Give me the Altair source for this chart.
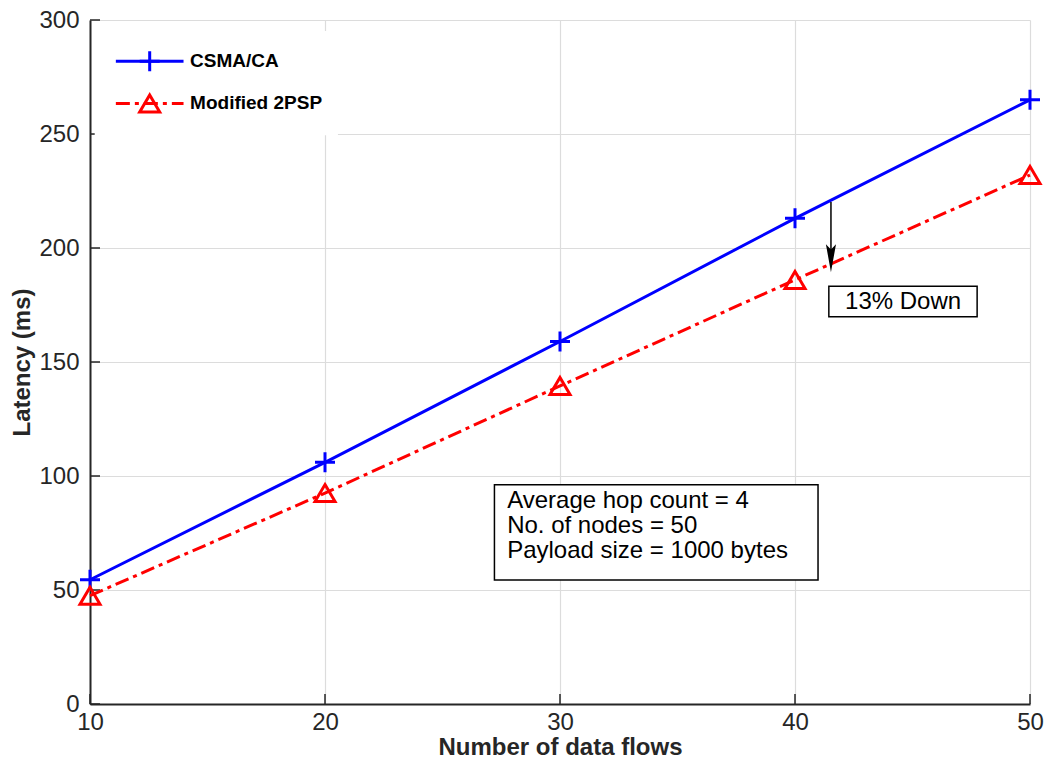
import altair as alt
import pandas as pd

# ---- data ----
flows = [10, 20, 30, 40, 50]
csma = [54.5, 106, 159, 213, 265]
mod2psp = [47.5, 92.5, 139.5, 186, 232]
x_ticks = [10, 20, 30, 40, 50]
y_ticks = [0, 50, 100, 150, 200, 250, 300]
info_lines = ["Average hop count = 4", "No. of nodes = 50", "Payload size = 1000 bytes"]
series_names = ["CSMA/CA", "Modified 2PSP"]

FONT = "Liberation Sans"
W, H = 940, 684
BLUE, RED = "#0000ff", "#ff0000"
PLUS = "M-1,0L1,0M0,-1L0,1"
TRI = "M0,-0.85L1,0.85L-1,0.85Z"
ARROW = "M0,1L-0.36,-1L0,-0.62L0.36,-1Z"

df_c = pd.DataFrame({"x": flows, "y": csma})
df_m = pd.DataFrame({"x": flows, "y": mod2psp})

xs = alt.Scale(domain=[10, 50], nice=False, zero=False)
ys = alt.Scale(domain=[0, 300], nice=False)

XAX = alt.Axis(
    values=x_ticks, title="Number of data flows", grid=True, ticks=False,
    labelPadding=6, labelFlush=False, labelOverlap=False,
    titleX=W / 2, titleY=50, titleBaseline="alphabetic", titleAlign="center")
YAX = alt.Axis(
    values=y_ticks, title="Latency (ms)", grid=True, ticks=False,
    labelPadding=11, labelFlush=False, labelOverlap=False,
    titleAngle=270, titleX=-68, titleY=H / 2, titleBaseline="middle", titleAlign="center")

X = lambda: alt.X("x:Q", scale=xs, axis=XAX)
Y = lambda: alt.Y("y:Q", scale=ys, axis=YAX)

# inward ticks (MATLAB style)
yt = alt.Chart(pd.DataFrame({"y": y_ticks})).mark_rule(color="#262626", strokeWidth=1.5).encode(
    y=Y(), x=alt.value(0), x2=alt.value(10))
xt = alt.Chart(pd.DataFrame({"x": x_ticks})).mark_rule(color="#262626", strokeWidth=1.5).encode(
    x=X(), y=alt.value(H), y2=alt.value(H - 10))

line_c = alt.Chart(df_c).mark_line(color=BLUE, strokeWidth=3).encode(x=X(), y=Y())
pts_c = alt.Chart(df_c).mark_point(shape=PLUS, size=400, color=BLUE, strokeWidth=3, filled=False, opacity=1).encode(x=X(), y=Y())
line_m = alt.Chart(df_m).mark_line(color=RED, strokeWidth=3, strokeDash=[14, 5, 4, 5]).encode(x=X(), y=Y())
pts_m = alt.Chart(df_m).mark_point(shape=TRI, size=400, color=RED, strokeWidth=3, filled=False, opacity=1).encode(x=X(), y=Y())

# legend
leg_box = alt.Chart(pd.DataFrame({"x": [10.2], "x2": [20.55], "y": [295.2], "y2": [249.5]})).mark_rect(
    fill="white").encode(x=X(), x2="x2", y=Y(), y2="y2")
leg_lc = alt.Chart(pd.DataFrame({"x": [11.1, 13.98], "y": [281.9, 281.9]})).mark_line(color=BLUE, strokeWidth=3).encode(x=X(), y=Y())
leg_lm = alt.Chart(pd.DataFrame({"x": [11.1, 13.98], "y": [263.4, 263.4]})).mark_line(color=RED, strokeWidth=3, strokeDash=[14, 5, 4, 5]).encode(x=X(), y=Y())
leg_pc = alt.Chart(pd.DataFrame({"x": [12.54], "y": [281.9]})).mark_point(shape=PLUS, size=400, color=BLUE, strokeWidth=3, filled=False, opacity=1).encode(x=X(), y=Y())
leg_pm = alt.Chart(pd.DataFrame({"x": [12.54], "y": [263.4]})).mark_point(shape=TRI, size=400, color=RED, strokeWidth=3, filled=False, opacity=1).encode(x=X(), y=Y())
leg_txt = alt.Chart(pd.DataFrame({"x": [14.26, 14.26], "y": [281.9, 263.4], "t": series_names})).mark_text(
    align="left", baseline="middle", font=FONT, fontSize=19, fontWeight="bold", color="black").encode(x=X(), y=Y(), text="t:N")

# arrow annotation
arr_line = alt.Chart(pd.DataFrame({"x": [41.53], "y": [220.2], "y2": [194]})).mark_rule(color="black", strokeWidth=1.5).encode(x=X(), y=Y(), y2="y2")
arr_head = alt.Chart(pd.DataFrame({"x": [41.53], "y": [195.5]})).mark_point(shape=ARROW, size=784, color="black", filled=True, opacity=1, strokeWidth=0).encode(x=X(), y=Y())
down_box = alt.Chart(pd.DataFrame({"x": [41.44], "x2": [47.75], "y": [183.2], "y2": [169.8]})).mark_rect(
    fill="white", stroke="black", strokeWidth=1.5).encode(x=X(), x2="x2", y=Y(), y2="y2")
down_txt = alt.Chart(pd.DataFrame({"x": [44.6], "y": [176.5], "t": ["13% Down"]})).mark_text(
    align="center", baseline="middle", font=FONT, fontSize=24, color="black").encode(x=X(), y=Y(), text="t:N")

# info box
info_box = alt.Chart(pd.DataFrame({"x": [27.21], "x2": [40.98], "y": [96.2], "y2": [54.4]})).mark_rect(
    fill="white", stroke="black", strokeWidth=1.5).encode(x=X(), x2="x2", y=Y(), y2="y2")
info_txt = alt.Chart(pd.DataFrame({"x": [27.75] * 3, "y": [86.1, 74.8, 63.9], "t": info_lines})).mark_text(
    align="left", baseline="alphabetic", font=FONT, fontSize=24, color="black").encode(x=X(), y=Y(), text="t:N")

chart = alt.layer(
    yt, xt, info_box, info_txt, line_c, line_m, pts_c, pts_m,
    arr_line, arr_head, down_box, down_txt,
    leg_box, leg_lc, leg_lm, leg_pc, leg_pm, leg_txt,
).properties(
    width=W, height=H,
    autosize=alt.AutoSizeParams(type="none"),
    padding={"left": 82, "top": 12, "right": 14, "bottom": 54},
).configure_view(stroke=None).configure_axis(
    labelFont=FONT, labelFontSize=24, labelColor="#262626",
    titleFont=FONT, titleFontSize=24, titleFontWeight="bold", titleColor="#262626",
    domainColor="#262626", domainWidth=2,
    gridColor="#dcdcdc", gridWidth=1.2,
)

chart.save("out.html", embed_options={"renderer": "svg", "actions": False})
